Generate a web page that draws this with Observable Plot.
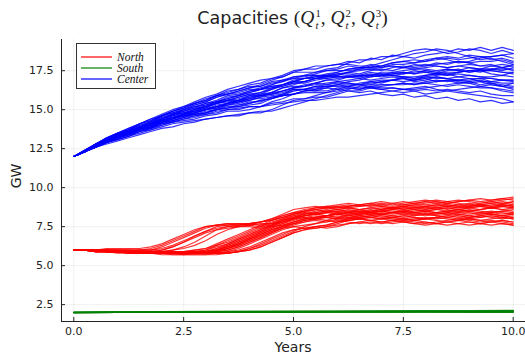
<!DOCTYPE html>
<html>
<head>
<meta charset="utf-8">
<script src="https://cdn.jsdelivr.net/npm/d3@7"></script>
<script src="https://cdn.jsdelivr.net/npm/@observablehq/plot@0.6"></script>
<style>
  body { margin: 0; background: #fff; }
  #wrap { position: relative; width: 525px; height: 354px; overflow: hidden; }
  #title { height: 30px; box-sizing: border-box; padding-left: 60px; text-align: center;
           font-family: "DejaVu Sans", sans-serif; font-size: 17.5px; color: #222; line-height: 36px; white-space: nowrap; }
  .m { font-family: "Liberation Serif", serif; font-size: 19.5px; }
  .m i { font-style: italic; }
  .ss { display: inline-block; font-size: 0.55em; line-height: 1.14; vertical-align: -0.45em; margin-left: 1px; text-align: left; }
  .ss span { display: block; }
  #legend { position: absolute; left: 76px; top: 43px; width: 78px; height: 44px; border: 1px solid #333;
            background: #fff; font-family: "Liberation Serif", serif; font-style: italic; font-size: 11.5px; color: #111; }
  #legend .row { position: absolute; left: 0; width: 100%; height: 11px; line-height: 11px; }
  #legend .sw { position: absolute; left: 4px; top: 4.5px; width: 31px; height: 2px; }
  #legend .lab { position: absolute; left: 40px; top: 0; }
  .axlab { position: absolute; font-family: "DejaVu Sans", sans-serif; font-size: 14px; color: #222; white-space: nowrap; }
</style>
</head>
<body>
<div id="wrap">
  <div id="title">Capacities <span class="m">(<i>Q</i><span class="ss"><span>1</span><span><i>t</i></span></span>, <i>Q</i><span class="ss"><span>2</span><span><i>t</i></span></span>, <i>Q</i><span class="ss"><span>3</span><span><i>t</i></span></span>)</span></div>
  <div id="chart"></div>
  <div id="legend"></div>
  <div class="axlab" id="ylab">GW</div>
  <div class="axlab" id="xlab">Years</div>
</div>
<script>
// Simulation time grid (years) for the North and Center capacity paths
const years = [0, 0.25, 0.5, 0.75, 1, 1.25, 1.5, 1.75, 2, 2.25, 2.5, 2.75, 3, 3.25, 3.5, 3.75, 4, 4.25, 4.5, 4.75,
  5, 5.25, 5.5, 5.75, 6, 6.25, 6.5, 6.75, 7, 7.25, 7.5, 7.75, 8, 8.25, 8.5, 8.75, 9, 9.25, 9.5, 9.75, 10];
// Coarser grid for the nearly constant South paths
const southYears = [0, 1, 2, 3, 4, 5, 6, 7, 8, 9, 10];

// North capacity paths Q¹ (GW)
const northPaths = [
  [6.0,6.0,6.0,6.0,6.0,6.0,6.0,6.1,6.3,6.6,6.9,7.2,7.5,7.6,7.7,7.7,7.6,7.8,8.0,8.3,8.6,8.7,8.8,8.7,8.8,8.9,8.8,8.9,9.0,8.9,9.0,9.1,9.2,9.1,9.0,9.1,9.2,9.3,9.2,9.3,9.2],
  [6.0,6.0,6.0,6.0,5.9,5.9,6.0,6.0,6.2,6.5,6.8,7.1,7.4,7.6,7.6,7.7,7.7,7.8,7.9,8.1,8.3,8.4,8.3,8.4,8.5,8.4,8.3,8.4,8.5,8.6,8.5,8.4,8.5,8.6,8.5,8.4,8.3,8.4,8.5,8.4,8.3],
  [6.0,6.0,6.0,5.9,5.9,5.9,5.9,5.9,6.0,6.2,6.5,6.9,7.2,7.5,7.6,7.6,7.7,7.6,7.7,7.9,8.1,8.3,8.4,8.5,8.4,8.3,8.2,8.1,8.2,8.1,8.0,7.9,8.0,7.9,7.8,7.9,8.0,7.9,7.8,7.9,7.8],
  [6.0,6.0,6.0,6.0,5.9,5.9,5.9,5.9,5.9,6.0,6.2,6.5,6.9,7.3,7.5,7.6,7.7,7.8,7.9,8.1,8.3,8.5,8.6,8.7,8.8,8.7,8.6,8.7,8.6,8.7,8.8,8.9,8.8,8.7,8.8,8.9,9.0,8.9,9.0,8.9,9.1],
  [6.0,6.0,6.0,5.9,5.9,5.9,5.9,5.9,5.9,6.0,6.1,6.3,6.6,7.0,7.3,7.5,7.6,7.7,7.7,7.8,8.0,8.2,8.3,8.2,8.3,8.4,8.5,8.4,8.5,8.4,8.3,8.2,8.3,8.4,8.3,8.2,8.1,8.2,8.1,8.0,8.1],
  [6.0,6.0,6.0,5.9,5.9,5.9,5.9,5.8,5.8,5.8,5.8,5.9,6.0,6.3,6.6,6.9,7.2,7.5,7.8,8.0,8.2,8.3,8.4,8.5,8.6,8.5,8.6,8.7,8.8,8.7,8.8,8.9,9.0,9.1,9.0,9.1,9.2,9.1,9.2,9.3,9.4],
  [6.0,6.0,5.9,5.9,5.9,5.9,5.8,5.8,5.8,5.8,5.8,5.8,5.9,6.1,6.4,6.7,7.0,7.3,7.6,7.9,8.1,8.2,8.3,8.2,8.3,8.2,8.1,8.2,8.3,8.2,8.3,8.4,8.3,8.2,8.3,8.4,8.5,8.4,8.3,8.2,8.3],
  [6.0,6.0,6.0,5.9,5.9,5.9,5.9,5.9,5.8,5.8,5.8,5.9,5.9,6.0,6.2,6.5,6.8,7.1,7.4,7.7,7.9,8.1,8.2,8.1,8.0,8.1,8.0,7.9,8.0,7.9,7.8,7.9,7.8,7.7,7.8,7.9,7.8,7.7,7.8,7.7,7.6],
  [6.0,6.0,6.0,6.0,5.9,5.9,5.9,5.9,5.9,5.9,5.9,5.9,6.0,6.2,6.4,6.7,7.0,7.3,7.6,7.9,8.2,8.4,8.6,8.7,8.6,8.7,8.8,8.9,8.8,8.7,8.6,8.7,8.8,8.9,9.0,8.9,8.8,8.9,8.8,8.9,8.8],
  [6.0,6.0,5.9,5.9,5.9,5.8,5.8,5.8,5.8,5.8,5.8,5.8,5.8,5.9,6.1,6.4,6.7,7.0,7.3,7.6,7.8,8.0,8.1,8.2,8.3,8.4,8.3,8.4,8.5,8.4,8.5,8.6,8.7,8.6,8.7,8.6,8.5,8.6,8.7,8.8,8.7],
  [6.0,6.0,6.0,5.9,5.9,5.9,5.9,5.9,5.9,5.8,5.8,5.8,5.9,6.0,6.3,6.6,6.9,7.2,7.5,7.8,8.1,8.3,8.5,8.6,8.7,8.8,8.9,8.8,8.9,9.0,9.1,9.0,8.9,9.0,9.1,9.2,9.1,9.0,9.1,9.2,9.3],
  [6.0,6.0,5.9,5.9,5.9,5.9,5.8,5.8,5.8,5.8,5.8,5.8,5.8,5.9,6.0,6.2,6.5,6.8,7.1,7.4,7.7,7.9,8.0,8.1,8.0,7.9,8.0,8.1,8.0,8.1,8.2,8.1,8.0,8.1,8.2,8.3,8.2,8.1,8.2,8.1,8.0],
  [6.0,6.0,6.0,5.9,5.9,5.9,5.9,5.9,5.8,5.8,5.9,5.9,5.9,6.0,6.2,6.5,6.8,7.1,7.4,7.7,8.0,8.2,8.3,8.4,8.5,8.6,8.5,8.4,8.5,8.6,8.7,8.8,8.7,8.8,8.9,8.8,8.7,8.8,8.9,9.0,8.9],
  [6.0,6.0,6.0,6.0,5.9,5.9,5.9,5.9,5.9,5.9,5.9,5.9,5.9,6.0,6.2,6.4,6.7,7.0,7.3,7.5,7.7,7.9,8.0,7.9,7.8,7.9,8.0,7.9,7.8,7.9,8.0,8.1,8.0,8.1,8.2,8.1,8.0,7.9,8.0,8.1,8.0],
  [6.0,6.0,5.9,5.9,5.9,5.8,5.8,5.8,5.8,5.8,5.8,5.8,5.8,5.8,5.9,6.1,6.4,6.7,7.0,7.3,7.5,7.6,7.7,7.8,8.0,8.2,8.3,8.4,8.3,8.4,8.5,8.6,8.5,8.4,8.5,8.6,8.7,8.6,8.7,8.8,8.7],
  [6.0,6.0,6.0,5.9,5.9,5.9,5.8,5.8,5.8,5.8,5.8,5.8,5.8,5.8,5.9,6.0,6.2,6.5,6.8,7.1,7.3,7.4,7.4,7.5,7.7,7.9,8.0,8.1,8.0,8.1,8.0,7.9,8.0,8.1,8.0,7.9,8.0,8.1,8.2,8.1,8.2],
  [6.0,6.0,5.9,5.9,5.9,5.9,5.9,5.8,5.8,5.8,5.8,5.8,5.8,5.8,5.8,5.9,6.1,6.4,6.7,7.0,7.3,7.4,7.5,7.4,7.5,7.7,7.8,7.9,7.8,7.7,7.8,7.7,7.6,7.7,7.8,7.7,7.6,7.7,7.6,7.7,7.6],
  [6.0,6.0,6.0,5.9,5.9,5.8,5.8,5.8,5.8,5.8,5.8,5.8,5.8,5.9,6.0,6.2,6.5,6.8,7.1,7.4,7.6,7.8,8.0,8.2,8.4,8.5,8.4,8.5,8.6,8.5,8.4,8.5,8.6,8.7,8.6,8.5,8.6,8.5,8.4,8.5,8.6],
  [6.0,6.0,5.9,5.9,5.9,5.9,5.8,5.8,5.8,5.8,5.8,5.8,5.8,5.8,5.8,5.9,6.0,6.2,6.5,6.8,7.1,7.3,7.5,7.6,7.8,8.0,8.1,8.2,8.3,8.2,8.1,8.2,8.3,8.2,8.1,8.0,8.1,8.2,8.3,8.2,8.3],
  [6.0,6.0,6.0,5.9,5.9,5.9,5.9,5.9,5.9,5.9,5.9,5.9,5.9,6.0,6.1,6.3,6.6,6.9,7.2,7.4,7.5,7.4,7.5,7.6,7.8,8.0,8.2,8.3,8.4,8.3,8.4,8.3,8.2,8.3,8.4,8.3,8.2,8.3,8.4,8.5,8.4],
  [6.0,6.0,6.0,6.1,6.1,6.1,6.1,6.2,6.4,6.7,7.0,7.3,7.5,7.6,7.7,7.6,7.7,7.8,8.0,8.2,8.4,8.5,8.6,8.5,8.6,8.7,8.6,8.5,8.6,8.7,8.8,8.7,8.6,8.7,8.8,8.7,8.8,8.9,8.8,8.9,8.8],
  [6.0,6.0,6.0,6.0,6.0,6.0,6.0,6.0,6.1,6.3,6.6,6.9,7.2,7.4,7.5,7.5,7.6,7.5,7.6,7.8,8.0,8.1,8.0,8.1,8.2,8.1,8.2,8.3,8.2,8.1,8.2,8.3,8.4,8.3,8.4,8.5,8.4,8.3,8.4,8.3,8.4],
  [6.0,6.0,6.0,6.0,6.0,6.0,5.9,5.9,5.9,5.9,5.9,6.0,6.1,6.3,6.5,6.8,7.1,7.4,7.7,8.0,8.3,8.5,8.7,8.8,8.9,9.0,8.9,9.0,9.1,9.0,8.9,9.0,9.1,9.2,9.1,9.0,8.9,9.0,9.1,9.0,9.1],
  [6.0,6.0,5.9,5.9,5.8,5.8,5.8,5.8,5.7,5.7,5.7,5.8,5.8,5.9,6.1,6.4,6.7,7.0,7.3,7.5,7.7,7.8,7.9,7.8,7.9,7.8,7.7,7.8,7.7,7.8,7.9,7.8,7.7,7.8,7.9,8.0,7.9,7.8,7.9,7.8,7.7],
  [6.0,6.0,6.0,5.9,5.9,5.9,5.8,5.8,5.8,5.7,5.7,5.7,5.7,5.8,5.8,5.9,6.1,6.3,6.6,6.9,7.2,7.5,7.7,7.9,8.1,8.3,8.4,8.5,8.6,8.7,8.6,8.7,8.8,8.9,8.8,8.7,8.8,8.9,9.0,9.1,9.0],
  [6.0,6.0,6.0,6.0,5.9,5.9,5.9,5.9,5.9,5.8,5.8,5.8,5.9,6.1,6.3,6.6,6.9,7.2,7.5,7.8,8.0,8.2,8.3,8.4,8.3,8.4,8.5,8.6,8.7,8.6,8.7,8.6,8.5,8.4,8.5,8.6,8.5,8.6,8.7,8.6,8.5],
  [6.0,6.0,5.9,5.9,5.9,5.8,5.8,5.8,5.8,5.8,5.7,5.7,5.7,5.7,5.8,5.9,6.0,6.2,6.5,6.8,7.1,7.3,7.4,7.5,7.6,7.7,7.8,7.7,7.8,7.9,7.8,7.7,7.8,7.7,7.6,7.7,7.8,7.7,7.8,7.9,7.8],
  [6.0,6.0,6.0,6.0,6.0,5.9,5.9,5.9,5.9,5.9,5.9,6.0,6.1,6.4,6.7,7.0,7.3,7.6,7.9,8.2,8.4,8.6,8.7,8.8,8.7,8.8,8.9,9.0,8.9,8.8,8.9,9.0,9.1,9.0,8.9,8.8,8.9,8.8,8.7,8.8,8.9],
  [6.0,6.0,6.0,6.0,6.0,6.0,6.0,6.0,6.0,6.2,6.5,6.8,7.1,7.3,7.4,7.5,7.5,7.4,7.5,7.6,7.8,8.0,8.1,8.2,8.1,8.0,8.1,8.2,8.1,8.0,7.9,8.0,8.1,8.0,8.1,8.2,8.1,8.2,8.3,8.2,8.1],
  [6.0,6.0,6.0,5.9,5.9,5.9,5.9,5.8,5.8,5.8,5.8,5.8,5.8,5.9,6.1,6.3,6.6,6.9,7.2,7.5,7.8,8.0,8.1,8.2,8.3,8.2,8.3,8.4,8.3,8.4,8.5,8.4,8.5,8.6,8.7,8.6,8.7,8.8,8.7,8.6,8.7]
];

// South capacity paths Q² (GW)
const southPaths = [
  [2.00,2.02,2.04,2.05,2.06,2.07,2.08,2.09,2.10,2.11,2.12],
  [2.00,2.01,2.02,2.03,2.04,2.04,2.05,2.05,2.06,2.06,2.07],
  [2.00,2.01,2.01,2.02,2.02,2.03,2.03,2.03,2.04,2.04,2.04],
  [2.00,2.02,2.03,2.04,2.05,2.06,2.06,2.07,2.08,2.08,2.09],
  [2.00,2.01,2.02,2.02,2.03,2.03,2.04,2.04,2.03,2.02,2.02]
];

// Center capacity paths Q³ (GW)
const centerPaths = [
  [12.0,12.4,12.8,13.2,13.5,13.8,14.1,14.4,14.7,15.0,15.2,15.5,15.8,16.0,16.3,16.5,16.7,16.9,17.0,17.1,17.4,17.4,17.4,17.6,17.7,18.0,18.2,18.2,18.4,18.4,18.6,18.8,18.9,18.8,18.6,18.7,18.9,18.8,18.6,18.8,18.6],
  [12.0,12.3,12.8,13.1,13.4,13.7,14.0,14.2,14.6,14.8,15.0,15.3,15.5,15.8,16.0,16.2,16.4,16.6,16.9,17.1,17.4,17.6,17.6,17.8,17.9,18.1,18.0,18.3,18.2,18.5,18.4,18.3,18.5,18.6,18.7,18.9,18.8,19.0,18.8,19.0,18.8],
  [12.0,12.3,12.7,13.0,13.3,13.6,13.9,14.1,14.5,14.7,14.9,15.2,15.4,15.6,15.9,16.0,16.2,16.4,16.6,16.9,17.1,17.1,17.3,17.5,17.5,17.5,17.6,17.6,17.5,17.7,17.8,17.7,17.8,17.9,18.0,18.1,18.0,18.1,18.1,18.2,18.0],
  [12.0,12.3,12.7,12.9,13.2,13.4,13.7,13.8,14.1,14.3,14.5,14.7,14.8,15.0,15.3,15.3,15.5,15.5,15.8,15.9,16.0,16.2,16.2,16.2,16.4,16.4,16.3,16.5,16.4,16.4,16.3,16.4,16.5,16.3,16.2,16.1,16.0,15.9,15.8,15.7,15.5],
  [12.0,12.3,12.6,12.9,13.1,13.3,13.5,13.7,13.9,14.1,14.2,14.3,14.4,14.5,14.6,14.6,14.8,14.8,15.0,15.3,15.6,15.7,15.9,16.1,16.2,16.4,16.3,16.5,16.6,16.6,16.7,16.6,16.7,16.6,16.5,16.6,16.5,16.4,16.4,16.3,16.2],
  [12.0,12.3,12.8,13.1,13.4,13.6,13.9,14.1,14.4,14.7,14.8,15.0,15.3,15.5,15.6,15.8,16.0,16.0,16.1,16.4,16.5,16.5,16.7,16.9,16.9,17.1,17.2,17.2,17.4,17.4,17.5,17.6,17.6,17.5,17.6,17.5,17.4,17.5,17.5,17.4,17.3],
  [12.0,12.3,12.7,13.0,13.3,13.5,13.7,13.9,14.2,14.4,14.6,14.7,14.9,15.0,15.2,15.2,15.4,15.6,15.7,16.0,16.3,16.3,16.5,16.6,16.7,16.7,16.6,16.8,16.9,16.9,16.8,16.9,17.0,17.1,17.0,17.1,17.2,17.1,17.1,17.2,17.1],
  [12.0,12.4,12.8,13.1,13.5,13.7,14.1,14.3,14.6,14.9,15.1,15.4,15.6,15.9,16.1,16.3,16.5,16.5,16.8,16.9,17.0,17.2,17.2,17.2,17.4,17.6,17.7,17.7,17.8,18.0,18.1,18.0,18.2,18.3,18.4,18.3,18.5,18.4,18.4,18.5,18.3],
  [12.0,12.3,12.7,12.9,13.2,13.4,13.6,13.8,14.1,14.2,14.4,14.6,14.7,14.9,15.0,15.1,15.2,15.2,15.4,15.5,15.7,15.7,15.8,15.8,16.0,16.2,16.2,16.4,16.5,16.6,16.7,16.6,16.8,16.9,16.8,16.9,16.9,17.0,16.8,16.7,16.7],
  [12.0,12.3,12.7,13.0,13.3,13.6,13.9,14.0,14.4,14.6,14.8,14.9,15.1,15.4,15.5,15.6,15.8,16.0,16.3,16.6,16.8,17.0,17.0,17.2,17.3,17.3,17.2,17.4,17.3,17.3,17.4,17.3,17.4,17.3,17.2,17.3,17.2,17.1,17.0,16.9,16.8],
  [12.0,12.3,12.8,13.1,13.4,13.6,13.8,14.0,14.3,14.5,14.7,15.0,15.2,15.5,15.7,15.9,16.1,16.3,16.6,16.8,17.1,17.2,17.4,17.5,17.6,17.8,17.7,17.7,17.8,17.8,17.7,17.8,17.9,17.8,17.7,17.8,17.7,17.6,17.6,17.7,17.5],
  [12.0,12.3,12.6,12.9,13.1,13.3,13.6,13.7,14.0,14.2,14.3,14.4,14.6,14.7,14.9,14.9,15.0,15.2,15.5,15.7,16.0,16.2,16.3,16.5,16.5,16.5,16.4,16.4,16.3,16.4,16.3,16.2,16.3,16.2,16.3,16.2,16.1,16.2,16.0,15.9,15.9],
  [12.0,12.3,12.7,13.0,13.3,13.5,13.7,13.9,14.2,14.3,14.5,14.8,15.0,15.1,15.4,15.5,15.7,15.7,15.8,15.9,16.0,16.1,16.1,16.1,16.3,16.5,16.6,16.7,16.8,16.9,17.0,16.9,17.1,17.2,17.3,17.4,17.5,17.6,17.6,17.6,17.6],
  [12.0,12.3,12.8,13.1,13.4,13.7,14.0,14.2,14.6,14.8,15.0,15.3,15.5,15.8,16.0,16.1,16.3,16.3,16.5,16.6,16.8,16.8,17.0,17.0,17.1,17.1,17.1,17.1,17.2,17.2,17.1,17.0,17.1,17.0,17.0,16.9,16.8,16.9,16.7,16.6,16.5],
  [12.0,12.3,12.7,12.9,13.2,13.4,13.8,14.0,14.3,14.5,14.7,14.9,15.0,15.2,15.3,15.4,15.6,15.8,16.1,16.4,16.6,16.8,17.0,17.1,17.2,17.4,17.5,17.6,17.7,17.9,17.9,18.0,18.1,18.2,18.3,18.2,18.3,18.4,18.2,18.3,18.1],
  [12.0,12.3,12.7,13.0,13.3,13.6,13.9,14.1,14.4,14.7,14.9,15.1,15.2,15.4,15.6,15.6,15.9,15.9,16.0,16.1,16.3,16.3,16.4,16.5,16.6,16.6,16.6,16.6,16.6,16.6,16.6,16.7,16.7,16.8,16.9,16.9,17.0,17.0,17.0,16.9,16.9],
  [12.0,12.4,12.8,13.2,13.5,13.7,14.1,14.3,14.6,14.9,15.1,15.4,15.6,15.9,16.2,16.3,16.6,16.7,17.0,17.2,17.5,17.6,17.8,17.8,17.9,17.9,17.8,17.8,17.7,17.8,17.7,17.6,17.7,17.8,17.7,17.8,17.9,17.8,17.8,17.9,17.8],
  [12.0,12.3,12.7,12.9,13.2,13.4,13.7,13.9,14.2,14.4,14.6,14.7,14.8,15.0,15.1,15.2,15.3,15.4,15.7,15.9,16.2,16.3,16.5,16.5,16.6,16.8,16.9,17.1,17.2,17.3,17.4,17.3,17.5,17.4,17.3,17.1,17.0,16.8,16.6,16.5,16.3],
  [12.0,12.3,12.7,13.0,13.3,13.5,13.8,14.0,14.3,14.5,14.7,14.9,15.2,15.4,15.6,15.8,16.0,16.1,16.4,16.5,16.7,16.7,16.9,17.0,17.1,17.1,17.2,17.2,17.1,17.2,17.1,17.1,17.2,17.3,17.4,17.4,17.5,17.5,17.5,17.4,17.4],
  [12.0,12.3,12.6,12.9,13.1,13.3,13.6,13.8,14.0,14.2,14.4,14.5,14.7,14.8,15.0,15.0,15.2,15.2,15.3,15.4,15.5,15.6,15.6,15.7,15.8,15.8,15.9,16.0,16.1,16.2,16.3,16.3,16.4,16.5,16.6,16.7,16.7,16.8,16.8,16.9,16.9],
  [12.0,12.3,12.6,12.8,13.0,13.2,13.4,13.6,13.8,13.9,14.1,14.2,14.4,14.5,14.6,14.7,14.8,14.9,14.9,15.1,15.3,15.5,15.7,15.9,16.1,16.3,16.5,16.6,16.8,16.9,17.1,17.0,17.2,17.3,17.2,17.4,17.5,17.4,17.6,17.5,17.7],
  [12.0,12.4,12.7,13.1,13.4,13.6,13.9,14.2,14.4,14.7,14.9,15.1,15.4,15.5,15.8,15.9,16.2,16.3,16.5,16.6,16.9,17.0,17.2,17.1,17.3,17.4,17.3,17.5,17.6,17.5,17.7,17.9,17.8,18.0,17.9,18.1,18.0,17.8,17.9,17.7,17.8],
  [12.0,12.3,12.6,13.0,13.2,13.5,13.7,14.0,14.2,14.4,14.7,14.8,15.0,15.3,15.4,15.6,15.7,15.9,16.0,16.2,16.4,16.5,16.7,16.6,16.8,16.9,17.0,16.9,17.0,17.1,17.0,16.9,17.0,16.8,16.9,16.7,16.8,16.6,16.7,16.5,16.4],
  [12.0,12.3,12.7,13.0,13.3,13.6,13.8,14.1,14.3,14.6,14.8,15.0,15.2,15.4,15.6,15.7,15.9,16.1,16.3,16.5,16.7,16.8,17.0,17.1,17.2,17.4,17.6,17.8,18.0,18.2,18.4,18.6,18.7,18.9,18.8,18.6,18.4,18.2,18.3,18.1,17.9],
  [12.0,12.3,12.6,12.9,13.2,13.4,13.7,13.9,14.1,14.3,14.5,14.6,14.8,15.0,15.1,15.3,15.4,15.6,15.7,15.9,16.0,16.2,16.3,16.4,16.6,16.5,16.7,16.8,16.7,16.9,17.0,16.8,16.9,17.1,17.0,16.8,16.7,16.5,16.4,16.2,16.1],
  [12.0,12.4,12.8,13.2,13.5,13.8,14.1,14.4,14.6,14.9,15.2,15.4,15.7,15.9,16.0,16.2,16.4,16.5,16.7,16.8,17.0,17.0,17.1,17.2,17.1,17.2,17.1,17.3,17.2,17.4,17.3,17.5,17.4,17.3,17.5,17.6,17.4,17.5,17.3,17.2,17.4],
  [12.0,12.3,12.7,13.0,13.2,13.5,13.7,13.9,14.2,14.4,14.6,14.8,15.0,15.1,15.3,15.5,15.6,15.8,15.9,16.0,16.2,16.3,16.2,16.4,16.3,16.2,16.1,16.2,16.0,15.9,16.0,15.8,15.9,15.7,15.8,15.6,15.7,15.5,15.6,15.4,15.5],
  [12.0,12.3,12.7,13.0,13.3,13.5,13.8,14.1,14.3,14.5,14.7,14.9,15.1,15.2,15.4,15.6,15.8,15.9,16.1,16.2,16.4,16.6,16.7,16.9,17.0,17.1,17.0,17.2,17.3,17.2,17.3,17.4,17.5,17.4,17.6,17.5,17.7,17.6,17.8,17.7,17.9],
  [12.0,12.3,12.7,13.0,13.3,13.5,13.8,14.0,14.3,14.5,14.6,14.8,15.0,15.2,15.4,15.5,15.7,15.9,16.0,16.2,16.4,16.5,16.6,16.7,16.8,16.7,16.6,16.4,16.3,16.2,16.1,16.2,16.0,16.1,16.2,16.3,16.4,16.5,16.6,16.5,16.7],
  [12.0,12.3,12.8,13.1,13.4,13.7,13.9,14.2,14.5,14.7,15.0,15.2,15.3,15.5,15.7,15.9,16.1,16.3,16.4,16.6,16.8,17.0,17.1,17.3,17.4,17.6,17.7,17.9,17.8,18.0,18.1,18.2,18.1,18.3,18.2,18.0,18.1,18.3,18.4,18.5,18.6]
];

const seriesNames = ["North", "South", "Center"];
const seriesColors = ["#ff0000", "#008000", "#0000ff"];
const xTicks = [0, 2.5, 5, 7.5, 10];
const yTicks = [2.5, 5, 7.5, 10, 12.5, 15, 17.5];

// Long-format rows: one row per (path, time) for each region
function toRows(paths, ts, name) {
  const out = [];
  paths.forEach((p, i) => p.forEach((v, j) => out.push({t: ts[j], v, path: name + i})));
  return out;
}
const northRows = toRows(northPaths, years, "N");
const southRows = toRows(southPaths, southYears, "S");
const centerRows = toRows(centerPaths, years, "C");

const W = 525, H = 324;
const mL = 61, mR = 0, mT = 9, mB = 33;
const xDom = [-0.28, 10.28], yDom = [1.42, 19.5];
const axisColor = "#222";
// tick length of 4px expressed in data units
const xTickLen = 4 * (xDom[1] - xDom[0]) / (W - mL - mR);
const yTickLen = 4 * (yDom[1] - yDom[0]) / (H - mT - mB);

const pathStyle = (color, w, o) => ({x: "t", y: "v", z: "path", stroke: color, strokeWidth: w, strokeOpacity: o});

const chart = Plot.plot({
  width: W, height: H,
  marginLeft: mL, marginRight: mR, marginTop: mT, marginBottom: mB,
  style: {fontFamily: "DejaVu Sans, sans-serif", fontSize: "11px", color: axisColor, background: "#fff", overflow: "visible"},
  x: {domain: xDom, ticks: xTicks, tickFormat: d3.format(".1f"), tickSize: 0, tickPadding: 6, label: null},
  y: {domain: yDom, ticks: yTicks, tickFormat: d3.format(".1f"), tickSize: 0, tickPadding: 8, label: null},
  marks: [
    // light grid
    Plot.ruleX(xTicks, {stroke: "#000", strokeOpacity: 0.08, strokeWidth: 0.8}),
    Plot.ruleY(yTicks, {stroke: "#000", strokeOpacity: 0.08, strokeWidth: 0.8}),
    // simulated capacity paths
    Plot.line(northRows, pathStyle(seriesColors[0], 1.2, 0.8)),
    Plot.line(southRows, pathStyle(seriesColors[1], 1.6, 0.85)),
    Plot.line(centerRows, pathStyle(seriesColors[2], 1.2, 0.8)),
    // axis spines
    Plot.ruleX([xDom[0]], {stroke: axisColor, strokeWidth: 1}),
    Plot.ruleY([yDom[0]], {stroke: axisColor, strokeWidth: 1}),
    // inward tick marks
    Plot.ruleY(yTicks, {x1: xDom[0], x2: xDom[0] + xTickLen, stroke: axisColor}),
    Plot.ruleX(xTicks, {y1: yDom[0], y2: yDom[0] + yTickLen, stroke: axisColor})
  ]
});
document.getElementById("chart").appendChild(chart);

// legend
const legend = document.getElementById("legend");
seriesNames.forEach((name, i) => {
  const row = document.createElement("div");
  row.className = "row";
  row.style.top = (7.5 + i * 11) + "px";
  const sw = document.createElement("div");
  sw.className = "sw";
  sw.style.backgroundColor = seriesColors[i];
  sw.style.opacity = "0.6";
  const lab = document.createElement("span");
  lab.className = "lab";
  lab.textContent = name;
  row.appendChild(sw);
  row.appendChild(lab);
  legend.appendChild(row);
});

// axis titles
const ylab = document.getElementById("ylab");
ylab.style.left = "16px"; ylab.style.top = "176px";
ylab.style.transform = "translate(-50%, -50%) rotate(-90deg)";
const xlab = document.getElementById("xlab");
xlab.style.left = "293px"; xlab.style.top = "347px";
xlab.style.transform = "translate(-50%, -50%)";
</script>
</body>
</html>
